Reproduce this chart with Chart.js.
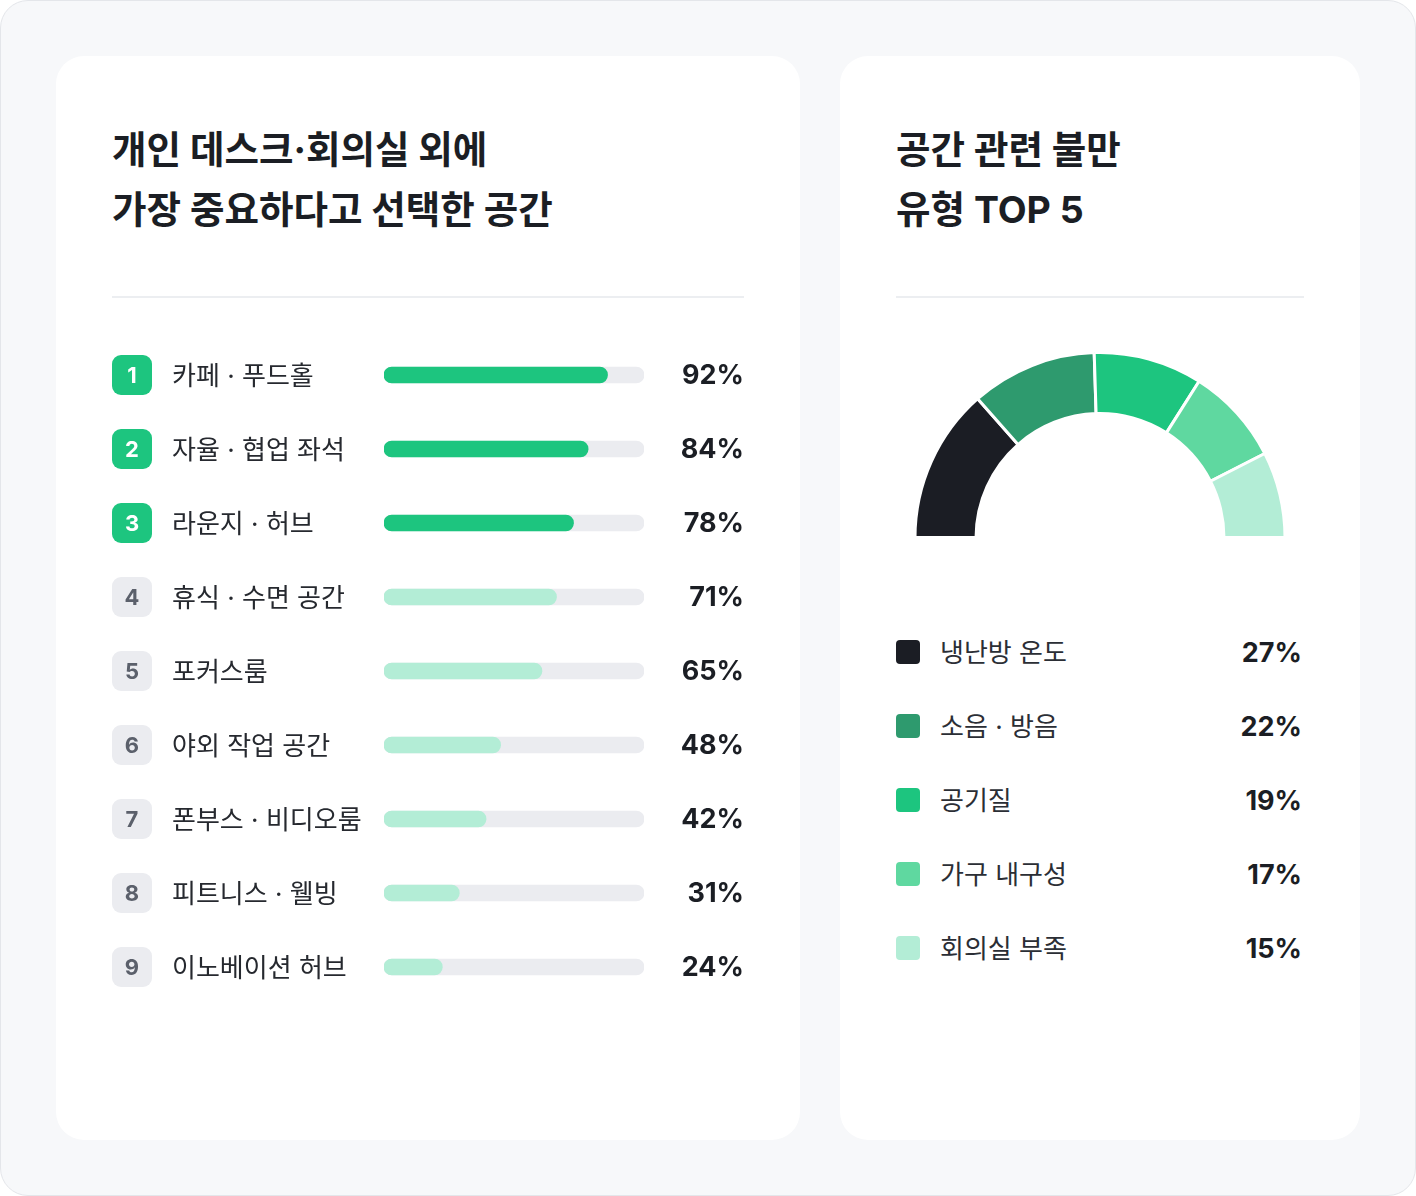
<!DOCTYPE html>
<html lang="ko">
<head>
<meta charset="utf-8">
<script src="https://cdn.jsdelivr.net/npm/chart.js@4.4.1/dist/chart.umd.min.js"></script>
<style>
  html, body { margin: 0; padding: 0; background: #ffffff; }
  body { width: 1416px; height: 1196px; position: relative; font-family: Inter, "Noto Sans CJK KR", sans-serif; }
  .frame { position: absolute; left: 0; top: 0; width: 1414px; height: 1194px; border: 1px solid #e4e6ea; border-radius: 28px; background: #f7f8fa; }
  .card { position: absolute; top: 56px; height: 1084px; background: #ffffff; border-radius: 28px; }
  .title { position: absolute; top: 120px; margin: 0; font-size: 37.5px; line-height: 60px; font-weight: 700; color: #1b1e24; letter-spacing: 0; white-space: nowrap; }
  .rule { position: absolute; top: 296px; height: 2px; background: #eceef1; }
  canvas { position: absolute; }
  .legend { position: absolute; left: 896px; top: 616px; width: 406px; }
  .legend .item { position: relative; height: 74px; }
  .legend .swatch { position: absolute; left: 0; top: 24px; width: 24px; height: 24px; border-radius: 4px; }
  .legend .name { position: absolute; left: 44px; top: 18px; font-size: 26px; line-height: 38px; color: #2b2e35; }
  .legend .val { position: absolute; right: 0; top: 18px; font-size: 27px; line-height: 38px; font-weight: 700; color: #1b1e24; }
</style>
</head>
<body>
<div class="frame"></div>
<div class="card" style="left:56px; width:744px;"></div>
<div class="card" style="left:840px; width:520px;"></div>

<h2 class="title" style="left:112px;">개인 데스크·회의실 외에<br>가장 중요하다고 선택한 공간</h2>
<div class="rule" style="left:112px; width:632px;"></div>

<h2 class="title" style="left:896px;">공간 관련 불만<br>유형 TOP 5</h2>
<div class="rule" style="left:896px; width:408px;"></div>

<canvas id="space-chart" width="632" height="666" style="left:112px; top:338px; width:632px; height:666px;"></canvas>
<canvas id="complaint-chart" width="376" height="188" style="left:912px; top:351px; width:376px; height:188px;"></canvas>
<div class="legend" id="complaint-legend"></div>

<script>
// Spaces chosen as most important
const spaceLabels = ['카페 · 푸드홀', '자율 · 협업 좌석', '라운지 · 허브', '휴식 · 수면 공간', '포커스룸', '야외 작업 공간', '폰부스 · 비디오룸', '피트니스 · 웰빙', '이노베이션 허브'];
const spaceValues = [92, 84, 78, 71, 65, 48, 42, 31, 24];
const spaceTrack = [107, 107, 107, 107, 107, 107, 107, 107, 107];

// Space complaints top 5
const complaintLabels = ['냉난방 온도', '소음 · 방음', '공기질', '가구 내구성', '회의실 부족'];
const complaintValues = [27, 22, 19, 17, 15];
const complaintColors = ['#1b1d24', '#2e9a6e', '#1dc57f', '#5fd8a0', '#b3edd6'];

const FONT = 'Inter, "Noto Sans CJK KR", sans-serif';
const TOP_GREEN = '#1dc57f';
const LIGHT_GREEN = '#b3edd6';

function roundRect(ctx, x, y, w, h, r) {
  ctx.beginPath();
  ctx.moveTo(x + r, y);
  ctx.arcTo(x + w, y, x + w, y + h, r);
  ctx.arcTo(x + w, y + h, x, y + h, r);
  ctx.arcTo(x, y + h, x, y, r);
  ctx.arcTo(x, y, x + w, y, r);
  ctx.closePath();
}

// draws rank badge, label and percent for every row
const rowText = {
  id: 'rowText',
  afterDraw(chart) {
    const ctx = chart.ctx;
    const yScale = chart.scales.y;
    ctx.save();
    spaceLabels.forEach((label, i) => {
      const y = yScale.getPixelForValue(i);
      const top3 = i < 3;

      roundRect(ctx, 0, y - 20, 40, 40, 9);
      ctx.fillStyle = top3 ? TOP_GREEN : '#ebecf0';
      ctx.fill();

      ctx.textBaseline = 'middle';
      ctx.textAlign = 'center';
      ctx.font = '700 22px ' + FONT;
      ctx.fillStyle = top3 ? '#ffffff' : '#5b606b';
      ctx.fillText(String(i + 1), 20, y + 1);

      ctx.textAlign = 'left';
      ctx.font = '400 26px ' + FONT;
      ctx.fillStyle = '#26292f';
      ctx.fillText(label, 60, y + 2);

      ctx.textAlign = 'right';
      ctx.font = '700 27px ' + FONT;
      ctx.fillStyle = '#1b1e24';
      ctx.fillText(spaceValues[i] + '%', chart.width, y + 1);
    });
    ctx.restore();
  }
};

const spaceChart = new Chart(document.getElementById('space-chart'), {
  type: 'bar',
  data: {
    labels: spaceLabels,
    datasets: [{
      data: spaceValues,
      backgroundColor: spaceValues.map((v, i) => i < 3 ? TOP_GREEN : LIGHT_GREEN),
      barThickness: 16,
      borderRadius: 8,
      borderSkipped: false,
      grouped: false,
      order: 0
    }, {
      data: spaceTrack,
      backgroundColor: '#ebecf0',
      barThickness: 16,
      borderRadius: 8,
      borderSkipped: false,
      grouped: false,
      order: 1
    }]
  },
  options: {
    indexAxis: 'y',
    responsive: false,
    animation: false,
    layout: { padding: { left: 272, right: 100, top: 0, bottom: 0 } },
    scales: {
      x: { display: false, min: 0, max: 107 },
      y: { display: false }
    },
    plugins: {
      legend: { display: false },
      tooltip: { enabled: false }
    }
  },
  plugins: [rowText]
});

const complaintChart = new Chart(document.getElementById('complaint-chart'), {
  type: 'doughnut',
  data: {
    labels: complaintLabels,
    datasets: [{
      data: complaintValues,
      backgroundColor: complaintColors,
      borderColor: '#ffffff',
      borderWidth: 3
    }]
  },
  options: {
    responsive: false,
    animation: false,
    rotation: -90,
    circumference: 180,
    cutout: '67%',
    plugins: {
      legend: { display: false },
      tooltip: { enabled: false }
    }
  }
});

// html legend for the doughnut
const legendBox = document.getElementById('complaint-legend');
complaintLabels.forEach((label, i) => {
  const item = document.createElement('div');
  item.className = 'item';
  item.innerHTML = '<span class="swatch" style="background:' + complaintColors[i] + '"></span>' +
    '<span class="name">' + label + '</span>' +
    '<span class="val">' + complaintValues[i] + '%</span>';
  legendBox.appendChild(item);
});
</script>
</body>
</html>
